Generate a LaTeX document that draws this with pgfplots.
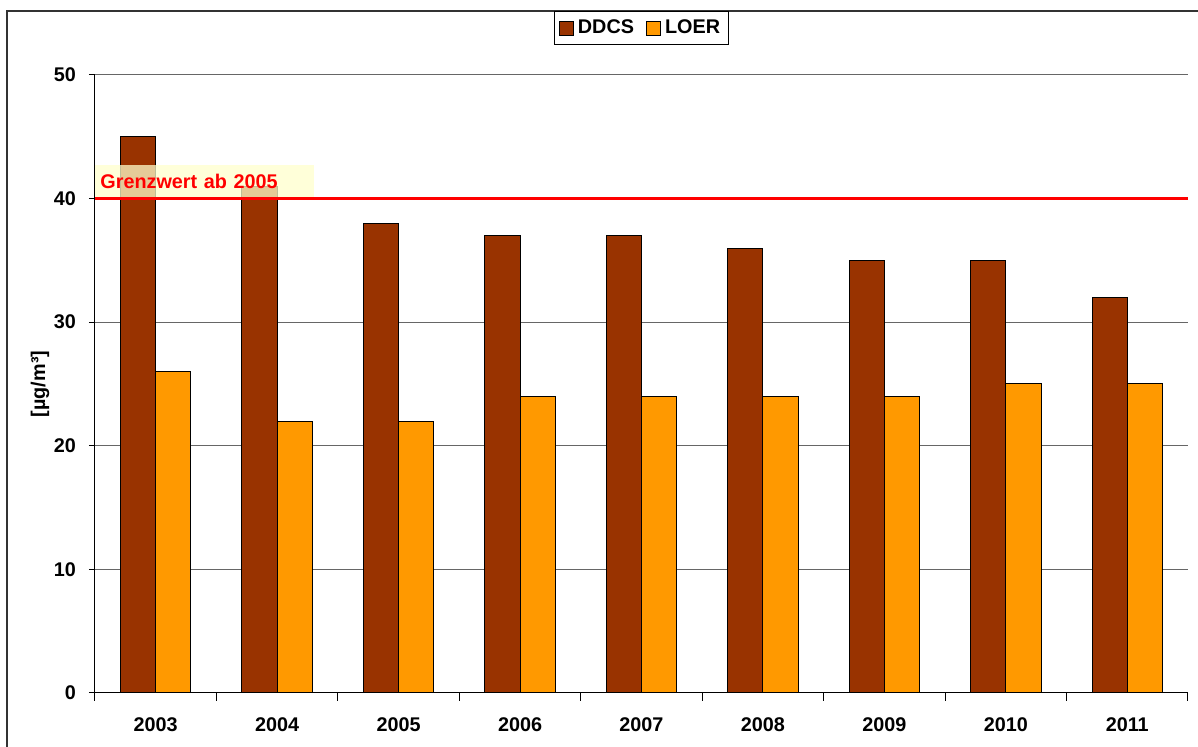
\documentclass[border=0pt]{standalone}
\usepackage{fontspec}
\setmainfont{Liberation Sans}
\usepackage{pgfplots}
\pgfplotsset{compat=1.18}
\definecolor{ddcs}{RGB}{153,51,0}
\definecolor{loer}{RGB}{255,153,0}
\definecolor{boxy}{RGB}{255,255,204}
\begin{document}
\begin{tikzpicture}
\useasboundingbox (-47.5pt,-27pt) rectangle (551.5pt,346.5pt);
\draw[black!80, line width=0.7pt] (-44pt,-30pt) -- (-44pt,341pt) -- (560pt,341pt);
\begin{axis}[
  at={(0pt,0pt)}, anchor=south west,
  scale only axis, width=546.5pt, height=309pt,
  xmin=-0.5, xmax=8.5, ymin=0, ymax=50,
  axis lines*=left,
  axis line style={black, line width=0.5pt},
  xtick={0,...,8},
  xticklabels={2003,2004,2005,2006,2007,2008,2009,2010,2011},
  major x tick style={draw=none},
  minor xtick={-0.5,0.5,...,8.5},
  minor tick length=4pt,
  minor x tick style={black, line width=0.5pt},
  ytick={0,10,...,50},
  major tick length=3pt,
  tick align=outside,
  y tick style={black, line width=0.5pt},
  ymajorgrids,
  grid style={black!60, line width=0.5pt},
  /pgf/number format/assume math mode=true,
  tick label style={font=\fontsize{9.9}{12}\selectfont\bfseries},
  xticklabel style={yshift=-6pt},
  yticklabel style={xshift=-3pt},
  ylabel={[µg/m³]},
  every axis y label/.style={at={(axis description cs:0,0.5)}, xshift=-27.5pt, rotate=90, anchor=center, font=\fontsize{9.9}{12}\selectfont\bfseries},
  ybar, bar width=0.29,
  legend columns=2,
  legend style={at={(0.5,1)}, anchor=south, yshift=15pt, draw=black, line width=0.5pt,
    font=\fontsize{9.9}{12}\selectfont\bfseries, inner sep=2pt,
    /tikz/every even column/.append style={column sep=4pt}},
  legend image code/.code={\draw[#1, draw=black, line width=0.5pt] (0pt,-3.5pt) rectangle (7pt,3.5pt);},
]
\addplot[fill=ddcs, draw=black, line width=0.5pt, bar shift=0pt] coordinates {
(-0.145,45) (0.855,41) (1.855,38) (2.855,37) (3.855,37) (4.855,36) (5.855,35) (6.855,35) (7.855,32)};
\addlegendentry{DDCS}
\addplot[fill=loer, draw=black, line width=0.5pt, bar shift=0pt] coordinates {
(0.145,26) (1.145,22) (2.145,22) (3.145,24) (4.145,24) (5.145,24) (6.145,24) (7.145,25) (8.145,25)};
\addlegendentry{LOER}
\node[anchor=south west, fill=boxy, fill opacity=0.75, text opacity=1, text=red,
  minimum height=16.5pt, text width=104.5pt, inner xsep=2.5pt, inner ysep=0pt, align=left,
  font=\fontsize{9.9}{12}\selectfont\bfseries] at (axis cs:-0.5,40) {Grenzwert ab 2005};
\addplot[sharp plot, red, line width=1.7pt, forget plot, bar shift=0pt] coordinates {(-0.5,40) (8.5,40)};
\end{axis}
\end{tikzpicture}
\end{document}
